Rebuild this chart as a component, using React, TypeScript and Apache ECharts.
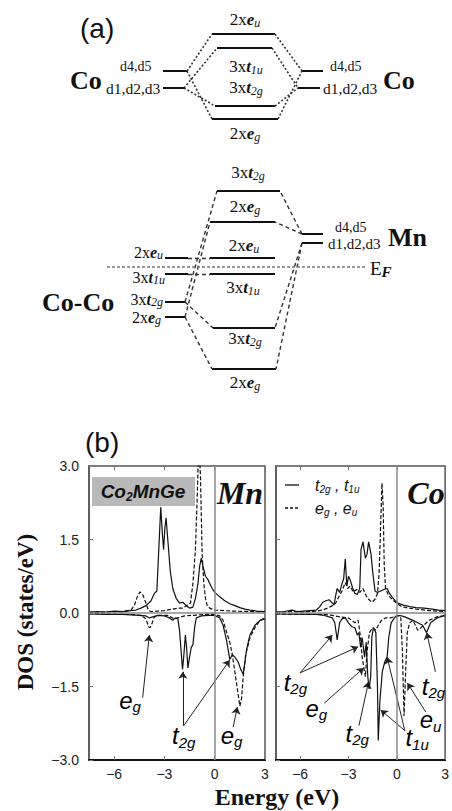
import React, { useEffect, useRef } from 'react';
import * as echarts from 'echarts';

const SERIF = '"Liberation Serif", "Times New Roman", serif';
const SANS = '"Liberation Sans", Arial, sans-serif';

// ---------- (a) schematic: energy levels [x1, x2, y] in diagram units ----------
const levelsA = [
  [163, 187, 71], [163, 184, 88], [212, 275, 34], [217, 272, 48], [215, 275, 106], [212, 278, 119],
  [302, 323, 71], [298, 320, 88],
  [217, 280, 191], [210, 275, 222], [210, 275, 258], [210, 275, 274], [213, 275, 328], [212, 276, 369],
  [165, 188, 258], [165, 188, 274], [165, 185, 302], [165, 185, 317],
  [302, 323, 234], [302, 323, 243],
];
const dottedLinks = [
  [187, 71, 212, 34], [187, 71, 212, 119], [184, 88, 217, 48], [184, 88, 215, 106],
  [275, 34, 302, 71], [278, 119, 302, 71], [272, 48, 298, 88], [275, 106, 298, 88],
];
const dashedLinks = [
  [185, 302, 217, 191], [185, 317, 210, 222], [188, 258, 210, 258], [188, 274, 210, 274],
  [185, 302, 213, 328], [185, 317, 212, 369], [302, 234, 275, 222], [302, 234, 280, 191],
  [302, 243, 275, 328], [302, 243, 276, 369],
];
const fermiLine = [107, 267, 365, 267];

// labels [x, y, prefix, letter, sub, align, size]
const diagramLabels: any[] = [
  [245, 19, '2x', 'e', 'u', 'center', 17],
  [246, 66, '3x', 't', '1u', 'center', 17],
  [246, 87, '3x', 't', '2g', 'center', 17],
  [245, 133, '2x', 'e', 'g', 'center', 17],
  [248, 172, '3x', 't', '2g', 'center', 17],
  [245, 206, '2x', 'e', 'g', 'center', 17],
  [244, 245, '2x', 'e', 'u', 'center', 17],
  [243, 287, '3x', 't', '1u', 'center', 17],
  [245, 338, '3x', 't', '2g', 'center', 17],
  [245, 382, '2x', 'e', 'g', 'center', 17],
  [163, 252, '2x', 'e', 'u', 'right', 16],
  [165, 277, '3x', 't', '1u', 'right', 16],
  [163, 299, '3x', 't', '2g', 'right', 16],
  [161, 317, '2x', 'e', 'g', 'right', 16],
];
// plain labels [x, y, text, size, bold]
const plainLabels: any[] = [
  [70, 80, 'Co', 26, true], [120, 66, 'd4,d5', 14, false], [106, 88, 'd1,d2,d3', 15.5, false],
  [330, 66, 'd4,d5', 14, false], [323, 88, 'd1,d2,d3', 15.5, false], [383, 80, 'Co', 26, true],
  [42, 302, 'Co-Co', 26, true],
  [335, 227, 'd4,d5', 14, false], [328, 244, 'd1,d2,d3', 15, false], [388, 237, 'Mn', 26, true],
];

// ---------- (b) DOS data [E (eV), DOS (states/eV)] ----------
const ENERGY_TICKS = [-6, -3, 0, 3];

const mnUpT2g = [
  [-7.5, 0.02], [-7, 0.03], [-6.5, 0.02], [-6, 0.04], [-5.5, 0.03], [-5, 0.05], [-4.7, 0.06], [-4.4, 0.1],
  [-4.1, 0.15], [-3.8, 0.25], [-3.6, 0.4], [-3.45, 0.45], [-3.35, 1.2], [-3.22, 2.16], [-3.12, 1.6],
  [-3.05, 1.29], [-2.97, 1.75], [-2.9, 1.94], [-2.8, 1.5], [-2.65, 0.85], [-2.5, 0.5], [-2.3, 0.3],
  [-2.1, 0.2], [-1.9, 0.22], [-1.7, 0.15], [-1.5, 0.1], [-1.3, 0.12], [-1.15, 0.3], [-1.0, 0.6],
  [-0.9, 0.95], [-0.8, 1.12], [-0.7, 0.95], [-0.55, 0.75], [-0.4, 0.68], [-0.3, 0.6], [-0.15, 0.5],
  [0, 0.42], [0.3, 0.33], [0.6, 0.25], [0.9, 0.19], [1.2, 0.15], [1.5, 0.11], [1.8, 0.08], [2.1, 0.06],
  [2.5, 0.04], [3, 0.03],
];
const mnUpEg = [
  [-7.5, 0.01], [-6.5, 0.02], [-5.5, 0.03], [-5, 0.06], [-4.8, 0.15], [-4.6, 0.35], [-4.45, 0.43],
  [-4.3, 0.38], [-4.1, 0.2], [-3.95, 0.05], [-3.8, 0.03], [-3.4, 0.04], [-3.0, 0.05], [-2.5, 0.08],
  [-2.2, 0.1], [-1.9, 0.1], [-1.7, 0.15], [-1.45, 0.2], [-1.3, 0.6], [-1.15, 1.3], [-1.05, 2.3],
  [-0.95, 3.5], [-0.85, 2.8], [-0.75, 1.2], [-0.65, 0.6], [-0.55, 0.3], [-0.45, 0.15], [-0.3, 0.1],
  [0, 0.06], [1, 0.04], [2, 0.03], [3, 0.02],
];
const mnDnT2g = [
  [-7.5, -0.02], [-6.5, -0.03], [-5.5, -0.03], [-4.5, -0.05], [-4.1, -0.06], [-3.9, -0.1], [-3.7, -0.08],
  [-3.4, -0.05], [-3.0, -0.06], [-2.7, -0.1], [-2.5, -0.15], [-2.35, -0.1], [-2.2, -0.12], [-2.1, -0.35],
  [-2.0, -0.8], [-1.92, -1.15], [-1.85, -0.9], [-1.75, -0.45], [-1.68, -0.7], [-1.6, -1.12], [-1.5, -0.9],
  [-1.4, -0.7], [-1.3, -0.65], [-1.2, -0.3], [-1.1, -0.1], [-0.8, -0.06], [-0.4, -0.05], [0, -0.05],
  [0.3, -0.1], [0.5, -0.25], [0.7, -0.55], [0.9, -0.95], [1.05, -0.85], [1.2, -0.9], [1.4, -1.0],
  [1.55, -1.15], [1.7, -1.25], [1.8, -1.0], [1.9, -0.75], [2.1, -0.45], [2.4, -0.25], [2.7, -0.15], [3, -0.12],
];
const mnDnEg = [
  [-7.5, -0.01], [-6, -0.02], [-5, -0.03], [-4.4, -0.05], [-4.1, -0.12], [-3.95, -0.28], [-3.85, -0.3],
  [-3.75, -0.22], [-3.6, -0.08], [-3.3, -0.05], [-2.8, -0.05], [-2.4, -0.12], [-2.2, -0.1], [-1.8, -0.06],
  [-1.4, -0.05], [-1, -0.04], [-0.5, -0.03], [0, -0.03], [0.3, -0.06], [0.5, -0.15], [0.7, -0.38],
  [0.9, -0.6], [1.05, -0.85], [1.2, -1.2], [1.35, -1.55], [1.5, -1.9], [1.6, -1.75], [1.7, -1.3],
  [1.85, -0.85], [2.1, -0.5], [2.4, -0.3], [2.7, -0.15], [3, -0.1],
];

const coUpT2g = [
  [-7.5, 0.02], [-7, 0.03], [-6.5, 0.06], [-6.2, 0.03], [-5.8, 0.04], [-5.4, 0.05], [-5, 0.06], [-4.8, 0.12],
  [-4.6, 0.22], [-4.4, 0.25], [-4.2, 0.27], [-4.0, 0.2], [-3.9, 0.16], [-3.8, 0.35], [-3.7, 0.5],
  [-3.55, 0.42], [-3.4, 0.6], [-3.3, 0.7], [-3.2, 1.1], [-3.1, 0.55], [-3.0, 0.75], [-2.9, 0.68],
  [-2.75, 0.52], [-2.6, 0.4], [-2.45, 0.38], [-2.3, 0.5], [-2.22, 1.3], [-2.1, 1.45], [-1.95, 1.12],
  [-1.85, 1.2], [-1.75, 1.45], [-1.6, 1.2], [-1.5, 0.85], [-1.35, 0.45], [-1.2, 0.42], [-1.0, 0.45],
  [-0.8, 0.48], [-0.6, 0.5], [-0.45, 0.4], [-0.3, 0.33], [-0.1, 0.25], [0.1, 0.2], [0.4, 0.16],
  [0.8, 0.13], [1.2, 0.11], [1.7, 0.1], [2.2, 0.08], [2.6, 0.06], [3, 0.05],
];
const coUpEg = [
  [-7.5, 0.01], [-7, 0.02], [-6.5, 0.03], [-6, 0.02], [-5.5, 0.03], [-5, 0.04], [-4.6, 0.06], [-4.3, 0.1],
  [-4.0, 0.15], [-3.8, 0.2], [-3.6, 0.33], [-3.4, 0.45], [-3.2, 0.62], [-3.05, 0.5], [-2.9, 0.55],
  [-2.7, 0.43], [-2.5, 0.48], [-2.3, 0.42], [-2.1, 0.5], [-1.9, 0.35], [-1.75, 0.28], [-1.55, 0.22],
  [-1.35, 0.28], [-1.2, 0.4], [-1.1, 0.8], [-1.0, 1.8], [-0.92, 2.65], [-0.85, 2.2], [-0.78, 1.0],
  [-0.7, 0.5], [-0.5, 0.35], [-0.3, 0.28], [0, 0.2], [0.3, 0.13], [0.7, 0.1], [1.2, 0.08], [2, 0.05], [3, 0.03],
];
const coDnT2g = [
  [-7.5, -0.02], [-5, -0.03], [-4.5, -0.05], [-4.0, -0.1], [-3.85, -0.2], [-3.7, -0.55], [-3.55, -0.2],
  [-3.4, -0.12], [-3.2, -0.1], [-3.0, -0.2], [-2.8, -0.28], [-2.6, -0.3], [-2.45, -0.45], [-2.35, -0.4],
  [-2.25, -0.7], [-2.15, -0.5], [-2.0, -0.9], [-1.9, -0.6], [-1.8, -1.3], [-1.72, -1.55], [-1.62, -1.3],
  [-1.55, -0.5], [-1.45, -0.3], [-1.3, -0.4], [-1.2, -1.5], [-1.15, -2.6], [-1.05, -1.8], [-0.9, -1.2],
  [-0.75, -1.0], [-0.6, -0.9], [-0.5, -0.5], [-0.35, -0.2], [-0.1, -0.08], [0.2, -0.05], [0.5, -0.08],
  [1.0, -0.15], [1.3, -0.2], [1.6, -0.25], [1.85, -0.4], [2.1, -0.2], [2.5, -0.1], [3, -0.05],
];
const coDnEg = [
  [-7.5, -0.02], [-4.5, -0.03], [-4.0, -0.05], [-3.5, -0.08], [-3.0, -0.1], [-2.6, -0.2], [-2.4, -0.15],
  [-2.25, -0.5], [-2.15, -0.9], [-2.05, -1.1], [-1.95, -1.3], [-1.85, -0.8], [-1.7, -0.4], [-1.5, -0.3],
  [-1.3, -0.35], [-1.15, -0.25], [-0.95, -0.15], [-0.7, -0.1], [-0.4, -0.1], [0.1, -0.05], [0.25, -0.1],
  [0.35, -0.8], [0.45, -2.1], [0.55, -1.2], [0.65, -0.4], [0.8, -0.2], [1.0, -0.15], [1.3, -0.35],
  [1.5, -0.3], [2.0, -0.15], [2.5, -0.08], [3, -0.05],
];

// annotations: labels [E, DOS, key], arrows [E1, D1, E2, D2]
const mnNotes: any[] = [[-5.05, -1.78, 'eg'], [-1.85, -2.5, 't2g'], [1.0, -2.49, 'eg']];
const mnArrows = [[-4.3, -1.73, -3.9, -0.45], [-1.9, -2.3, -1.9, -1.2], [-1.85, -2.3, 0.9, -0.96], [1.1, -2.33, 1.35, -1.92]];
const coNotes: any[] = [
  [-6.3, -1.41, 't2g'], [-5.0, -1.94, 'eg'], [-2.46, -2.45, 't2g'], [1.26, -2.55, 't1u'], [2.1, -2.18, 'eu'], [2.28, -1.49, 't2g'],
];
const coArrows = [
  [-6.0, -1.22, -4.0, -0.45], [-6.0, -1.22, -2.4, -0.69], [-4.5, -1.84, -2.05, -1.12], [-2.35, -2.3, -1.75, -1.4],
  [0.5, -2.4, -1.0, -1.98], [0.5, -2.4, -0.6, -0.9], [1.8, -2.02, 0.66, -1.43], [2.4, -1.2, 1.86, -0.4],
];
const noteText: Record<string, string> = {
  eg: '{m|e}{s|g}', eu: '{m|e}{s|u}', t2g: '{m|t}{s|2g}', t1u: '{m|t}{s|1u}',
};

// legend entries [text markup, dashed]
const legendItems: any[] = [
  ['{i|t}{s|2g}{i| , t}{s|1u}', false],
  ['{i|e}{s|g}{i| , e}{s|u}', true],
];

function diagRich(size: number, lh: number) {
  const sub = Math.round(size * 0.72);
  return {
    n: { fontFamily: SERIF, fontSize: size, lineHeight: lh, verticalAlign: 'middle', fill: '#111' },
    b: { fontFamily: SERIF, fontSize: size, fontWeight: 'bold', fontStyle: 'italic', lineHeight: lh, verticalAlign: 'middle', fill: '#111' },
    s: { fontFamily: SERIF, fontSize: sub, fontStyle: 'italic', lineHeight: Math.round(lh * 0.45), verticalAlign: 'bottom', fill: '#111' },
    f: { fontFamily: SERIF, fontSize: Math.round(size * 0.8), fontWeight: 'bold', fontStyle: 'italic', lineHeight: Math.round(lh * 0.45), verticalAlign: 'bottom', fill: '#111' },
  };
}

export default function App() {
  const ref = useRef<HTMLDivElement>(null);
  useEffect(() => {
    document.body.style.margin = '0';
    document.body.style.background = '#fff';
    const chart = echarts.init(ref.current!, null, { renderer: 'svg' });

    const fmt = (v: number) => (v === 0 ? '0' : String(v).replace('-', '\u2212'));
    const yfmt = (v: number) => v.toFixed(1).replace('-', '\u2212');

    const energyAxis = (gridIndex: number, position: string, showLabels: boolean) => ({
      type: 'value', gridIndex, position, min: -7.5, max: 3,
      axisLine: { show: position === 'bottom', onZero: false, lineStyle: { color: '#111', width: 2 } },
      axisTick: { show: true, inside: true, length: 4, customValues: ENERGY_TICKS, lineStyle: { color: '#777' } },
      axisLabel: { show: showLabels, customValues: ENERGY_TICKS, formatter: fmt, fontFamily: SANS, fontSize: 14, color: '#222', margin: 7 },
      splitLine: { show: false },
    });
    const dosAxis = (gridIndex: number, showLabels: boolean) => ({
      type: 'value', gridIndex, min: -3, max: 3, interval: 1.5,
      axisLine: { show: true, onZero: false, lineStyle: { color: '#555', width: 1.5 } },
      axisTick: { show: true, inside: true, length: 4, lineStyle: { color: '#777' } },
      axisLabel: { show: showLabels, formatter: yfmt, fontFamily: SANS, fontSize: 14, color: '#222', margin: 10 },
      splitLine: { show: false },
    });

    const dosLine = (name: string, data: number[][], ax: number, dashed: boolean, extra: any = {}) => ({
      type: 'line', name, data, xAxisIndex: ax, yAxisIndex: ax, showSymbol: false, symbol: 'none',
      clip: true, silent: true,
      lineStyle: { color: '#111', width: 1.2, type: dashed ? [4, 2] : 'solid' },
      itemStyle: { color: '#111' },
      ...extra,
    });
    const zeroLines = {
      silent: true, symbol: 'none', label: { show: false },
      lineStyle: { color: '#8a8a8a', width: 1.5, type: 'solid' },
      data: [{ xAxis: 0 }, { yAxis: 0 }],
    };
    const noteRich = {
      m: { fontFamily: SANS, fontStyle: 'italic', fontSize: 24, lineHeight: 28, verticalAlign: 'middle', color: '#000' },
      s: { fontFamily: SANS, fontStyle: 'italic', fontSize: 15, lineHeight: 14, verticalAlign: 'bottom', color: '#000' },
    };
    const notes = (ax: number, list: any[]) => ({
      type: 'scatter', xAxisIndex: ax, yAxisIndex: ax, symbolSize: 1, silent: true,
      itemStyle: { color: '#fff', opacity: 0 },
      data: list.map(([x, y, k]) => ({ value: [x, y], name: k })),
      label: {
        show: true, position: 'inside', color: '#000', opacity: 1, textBorderWidth: 0,
        formatter: (p: any) => noteText[p.name], rich: noteRich,
      },
    });
    const arrows = (ax: number, list: number[][]) => ({
      type: 'lines', coordinateSystem: 'cartesian2d', xAxisIndex: ax, yAxisIndex: ax, silent: true,
      symbol: ['none', 'arrow'], symbolSize: 7,
      lineStyle: { color: '#222', width: 1, opacity: 1 },
      data: list.map(([a, b, c, d]) => ({ coords: [[a, b], [c, d]] })),
    });
    const segs = (list: number[][], style: any) => ({
      type: 'lines', coordinateSystem: 'cartesian2d', xAxisIndex: 0, yAxisIndex: 0, silent: true,
      lineStyle: { opacity: 1, ...style },
      data: list.map(([a, b, c, d]) => ({ coords: [[a, b], [c, d]] })),
    });

    const graphics: any[] = [];
    diagramLabels.forEach(([x, y, pre, letter, sub, align, size]) => {
      graphics.push({
        type: 'text', x, y, silent: true,
        style: { text: `{n|${pre}}{b|${letter}}{s|${sub}}`, rich: diagRich(size, size + 2), align, verticalAlign: 'middle' },
      });
    });
    plainLabels.forEach(([x, y, text, size, bold]) => {
      graphics.push({
        type: 'text', x, y, silent: true,
        style: { text, font: `${bold ? 'bold ' : ''}${size}px ${SERIF}`, fill: '#111', align: 'left', verticalAlign: 'middle' },
      });
    });
    legendItems.forEach(([markup, dashed], i) => {
      const y = 485 + i * 23;
      graphics.push(
        { type: 'line', silent: true, shape: { x1: 285, y1: y, x2: 299, y2: y }, style: { stroke: '#111', lineWidth: 1.3, lineDash: dashed ? [3, 2] : null } },
        {
          type: 'text', x: 315, y, silent: true,
          style: {
            text: markup, align: 'left', verticalAlign: 'middle',
            rich: {
              i: { fontFamily: SANS, fontStyle: 'italic', fontSize: 16, lineHeight: 18, verticalAlign: 'middle', fill: '#111' },
              s: { fontFamily: SANS, fontStyle: 'italic', fontSize: 10, lineHeight: 8, verticalAlign: 'bottom', fill: '#111' },
            },
          },
        },
      );
    });
    graphics.push(
      { type: 'text', x: 370, y: 268, silent: true, style: { text: '{n|E}{f|F}', rich: diagRich(19, 22), align: 'left', verticalAlign: 'middle' } },
      { type: 'text', x: 80, y: 28, silent: true, style: { text: '(a)', font: `28px ${SANS}`, fill: '#111', align: 'left', verticalAlign: 'middle' } },
      { type: 'text', x: 85, y: 442, silent: true, style: { text: '(b)', font: `28px ${SANS}`, fill: '#111', align: 'left', verticalAlign: 'middle' } },
      { type: 'rect', shape: { x: 92, y: 477, width: 103, height: 29 }, silent: true, style: { fill: '#b9b9b9' } },
      {
        type: 'text', x: 143, y: 491, silent: true,
        style: {
          text: '{a|Co}{s|2}{a|MnGe}', align: 'center', verticalAlign: 'middle',
          rich: {
            a: { fontFamily: SANS, fontStyle: 'italic', fontWeight: 'bold', fontSize: 19, lineHeight: 24, verticalAlign: 'middle', fill: '#111' },
            s: { fontFamily: SANS, fontStyle: 'italic', fontWeight: 'bold', fontSize: 12, lineHeight: 12, verticalAlign: 'bottom', fill: '#111' },
          },
        },
      },
      { type: 'text', x: 240, y: 493, silent: true, style: { text: 'Mn', font: `italic bold 32px ${SERIF}`, fill: '#111', align: 'center', verticalAlign: 'middle' } },
      { type: 'text', x: 426, y: 493, silent: true, style: { text: 'Co', font: `italic bold 32px ${SERIF}`, fill: '#111', align: 'center', verticalAlign: 'middle' } },
      { type: 'text', x: 25, y: 612, rotation: Math.PI / 2, silent: true, style: { text: 'DOS (states/eV)', font: `bold 23px ${SERIF}`, fill: '#111', align: 'center', verticalAlign: 'middle' } },
      { type: 'text', x: 277, y: 797, silent: true, style: { text: 'Energy (eV)', font: `bold 24px ${SERIF}`, fill: '#111', align: 'center', verticalAlign: 'middle' } },
    );

    const option: any = {
      animation: false,
      backgroundColor: '#fff',
      grid: [
        { left: 0, top: 0, width: 452, height: 420, show: false },
        { left: 89, top: 466, width: 176, height: 294, show: true, borderColor: '#555', borderWidth: 1.5, backgroundColor: 'transparent' },
        { left: 276, top: 466, width: 175, height: 294, show: true, borderColor: '#555', borderWidth: 1.5, backgroundColor: 'transparent' },
      ],
      xAxis: [
        { type: 'value', gridIndex: 0, min: 0, max: 452, show: false },
        energyAxis(1, 'bottom', true),
        energyAxis(2, 'bottom', true),
        energyAxis(1, 'top', false),
        energyAxis(2, 'top', false),
      ],
      yAxis: [
        { type: 'value', gridIndex: 0, min: 0, max: 420, inverse: true, show: false },
        dosAxis(1, true),
        dosAxis(2, false),
      ],
      series: [
        segs(levelsA.map(([x1, x2, y]) => [x1, y, x2, y]), { color: '#111', width: 2, type: 'solid' }),
        segs(dottedLinks, { color: '#333', width: 1.6, type: [2, 2] }),
        segs(dashedLinks, { color: '#333', width: 1.4, type: [4, 3] }),
        segs([fermiLine], { color: '#777', width: 1.6, type: [3, 2] }),
        dosLine('t2g, t1u (Mn up)', mnUpT2g, 1, false, { markLine: zeroLines }),
        dosLine('eg, eu (Mn up)', mnUpEg, 1, true),
        dosLine('t2g, t1u (Mn down)', mnDnT2g, 1, false),
        dosLine('eg, eu (Mn down)', mnDnEg, 1, true),
        dosLine('t2g, t1u (Co up)', coUpT2g, 2, false, { markLine: zeroLines }),
        dosLine('eg, eu (Co up)', coUpEg, 2, true),
        dosLine('t2g, t1u (Co down)', coDnT2g, 2, false),
        dosLine('eg, eu (Co down)', coDnEg, 2, true),
        arrows(1, mnArrows),
        arrows(2, coArrows),
        notes(1, mnNotes),
        notes(2, coNotes),
      ],
      graphic: graphics,
    };
    chart.setOption(option);
    return () => chart.dispose();
  }, []);
  return <div ref={ref} style={{ width: 452, height: 811 }} />;
}
